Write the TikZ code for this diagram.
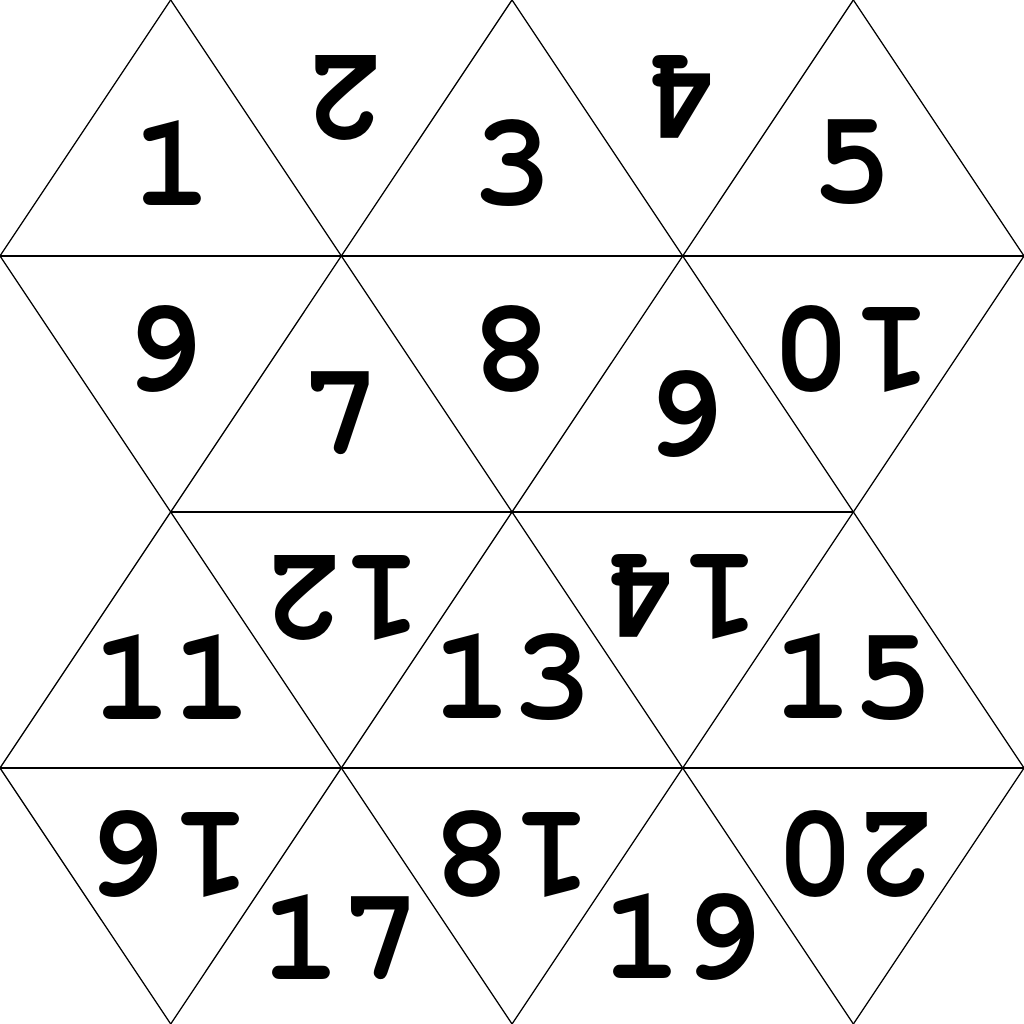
\documentclass[tikz,border=0pt]{standalone}
\usepackage[T1]{fontenc}
\tikzset{
  num/.style={inner sep=0pt, font=\fontfamily{pcr}\fontseries{b}\fontsize{37}{37}\selectfont},
  numflip/.style={num, rotate=180},
  edge/.style={line width=0.35pt},
  rowline/.style={line width=0.6pt}
}
\begin{document}
\begin{tikzpicture}
\useasboundingbox (0,0) rectangle (10,10);

% lattice points
\coordinate (t1) at (1.6667,10);
\coordinate (t2) at (5,10);
\coordinate (t3) at (8.3333,10);
\coordinate (u0) at (0,7.5);
\coordinate (u1) at (3.3333,7.5);
\coordinate (u2) at (6.6667,7.5);
\coordinate (u3) at (10,7.5);
\coordinate (m1) at (1.6667,5);
\coordinate (m2) at (5,5);
\coordinate (m3) at (8.3333,5);
\coordinate (v0) at (0,2.5);
\coordinate (v1) at (3.3333,2.5);
\coordinate (v2) at (6.6667,2.5);
\coordinate (v3) at (10,2.5);
\coordinate (b1) at (1.6667,0);
\coordinate (b2) at (5,0);
\coordinate (b3) at (8.3333,0);

% horizontal edges
\draw[rowline] (u0) -- (u3);
\draw[rowline] (m1) -- (m3);
\draw[rowline] (v0) -- (v3);

% slanted edges
\draw[edge] (t1) -- (u1) -- (m2) -- (v2) -- (b3);
\draw[edge] (t2) -- (u2) -- (m3) -- (v3);
\draw[edge] (t3) -- (u3);
\draw[edge] (u0) -- (m1) -- (v1) -- (b2);
\draw[edge] (v0) -- (b1);
\draw[edge] (t1) -- (u0);
\draw[edge] (t2) -- (u1) -- (m1) -- (v0);
\draw[edge] (t3) -- (u2) -- (m2) -- (v1) -- (b1);
\draw[edge] (u3) -- (m3) -- (v2) -- (b2);
\draw[edge] (v3) -- (b3);

% face numbers
\node[num] (f1) at (1.68,8.40) {1};
\node[numflip] (f2) at (3.35,9.05) {2};
\node[num] (f3) at (5.00,8.40) {3};
\node[numflip] (f4) at (6.65,9.05) {4};
\node[num] (f5) at (8.32,8.40) {5};

\node[numflip] (f6) at (1.66,6.60) {6};
\node[num] (f7) at (3.33,5.95) {7};
\node[numflip] (f8) at (5.00,6.60) {8};
\node[num] (f9) at (6.68,5.95) {9};
\node[numflip] (f10) at (8.32,6.60) {10};

\node[num] (f11) at (1.68,3.38) {11};
\node[numflip] (f12) at (3.34,4.16) {12};
\node[num] (f13) at (5.00,3.38) {13};
\node[numflip] (f14) at (6.64,4.17) {14};
\node[num] (f15) at (8.33,3.38) {15};

\node[numflip] (f16) at (1.67,1.67) {16};
\node[num] (f17) at (3.33,0.84) {17};
\node[numflip] (f18) at (5.00,1.67) {18};
\node[num] (f19) at (6.66,0.84) {19};
\node[numflip] (f20) at (8.35,1.67) {20};
\end{tikzpicture}
\end{document}
